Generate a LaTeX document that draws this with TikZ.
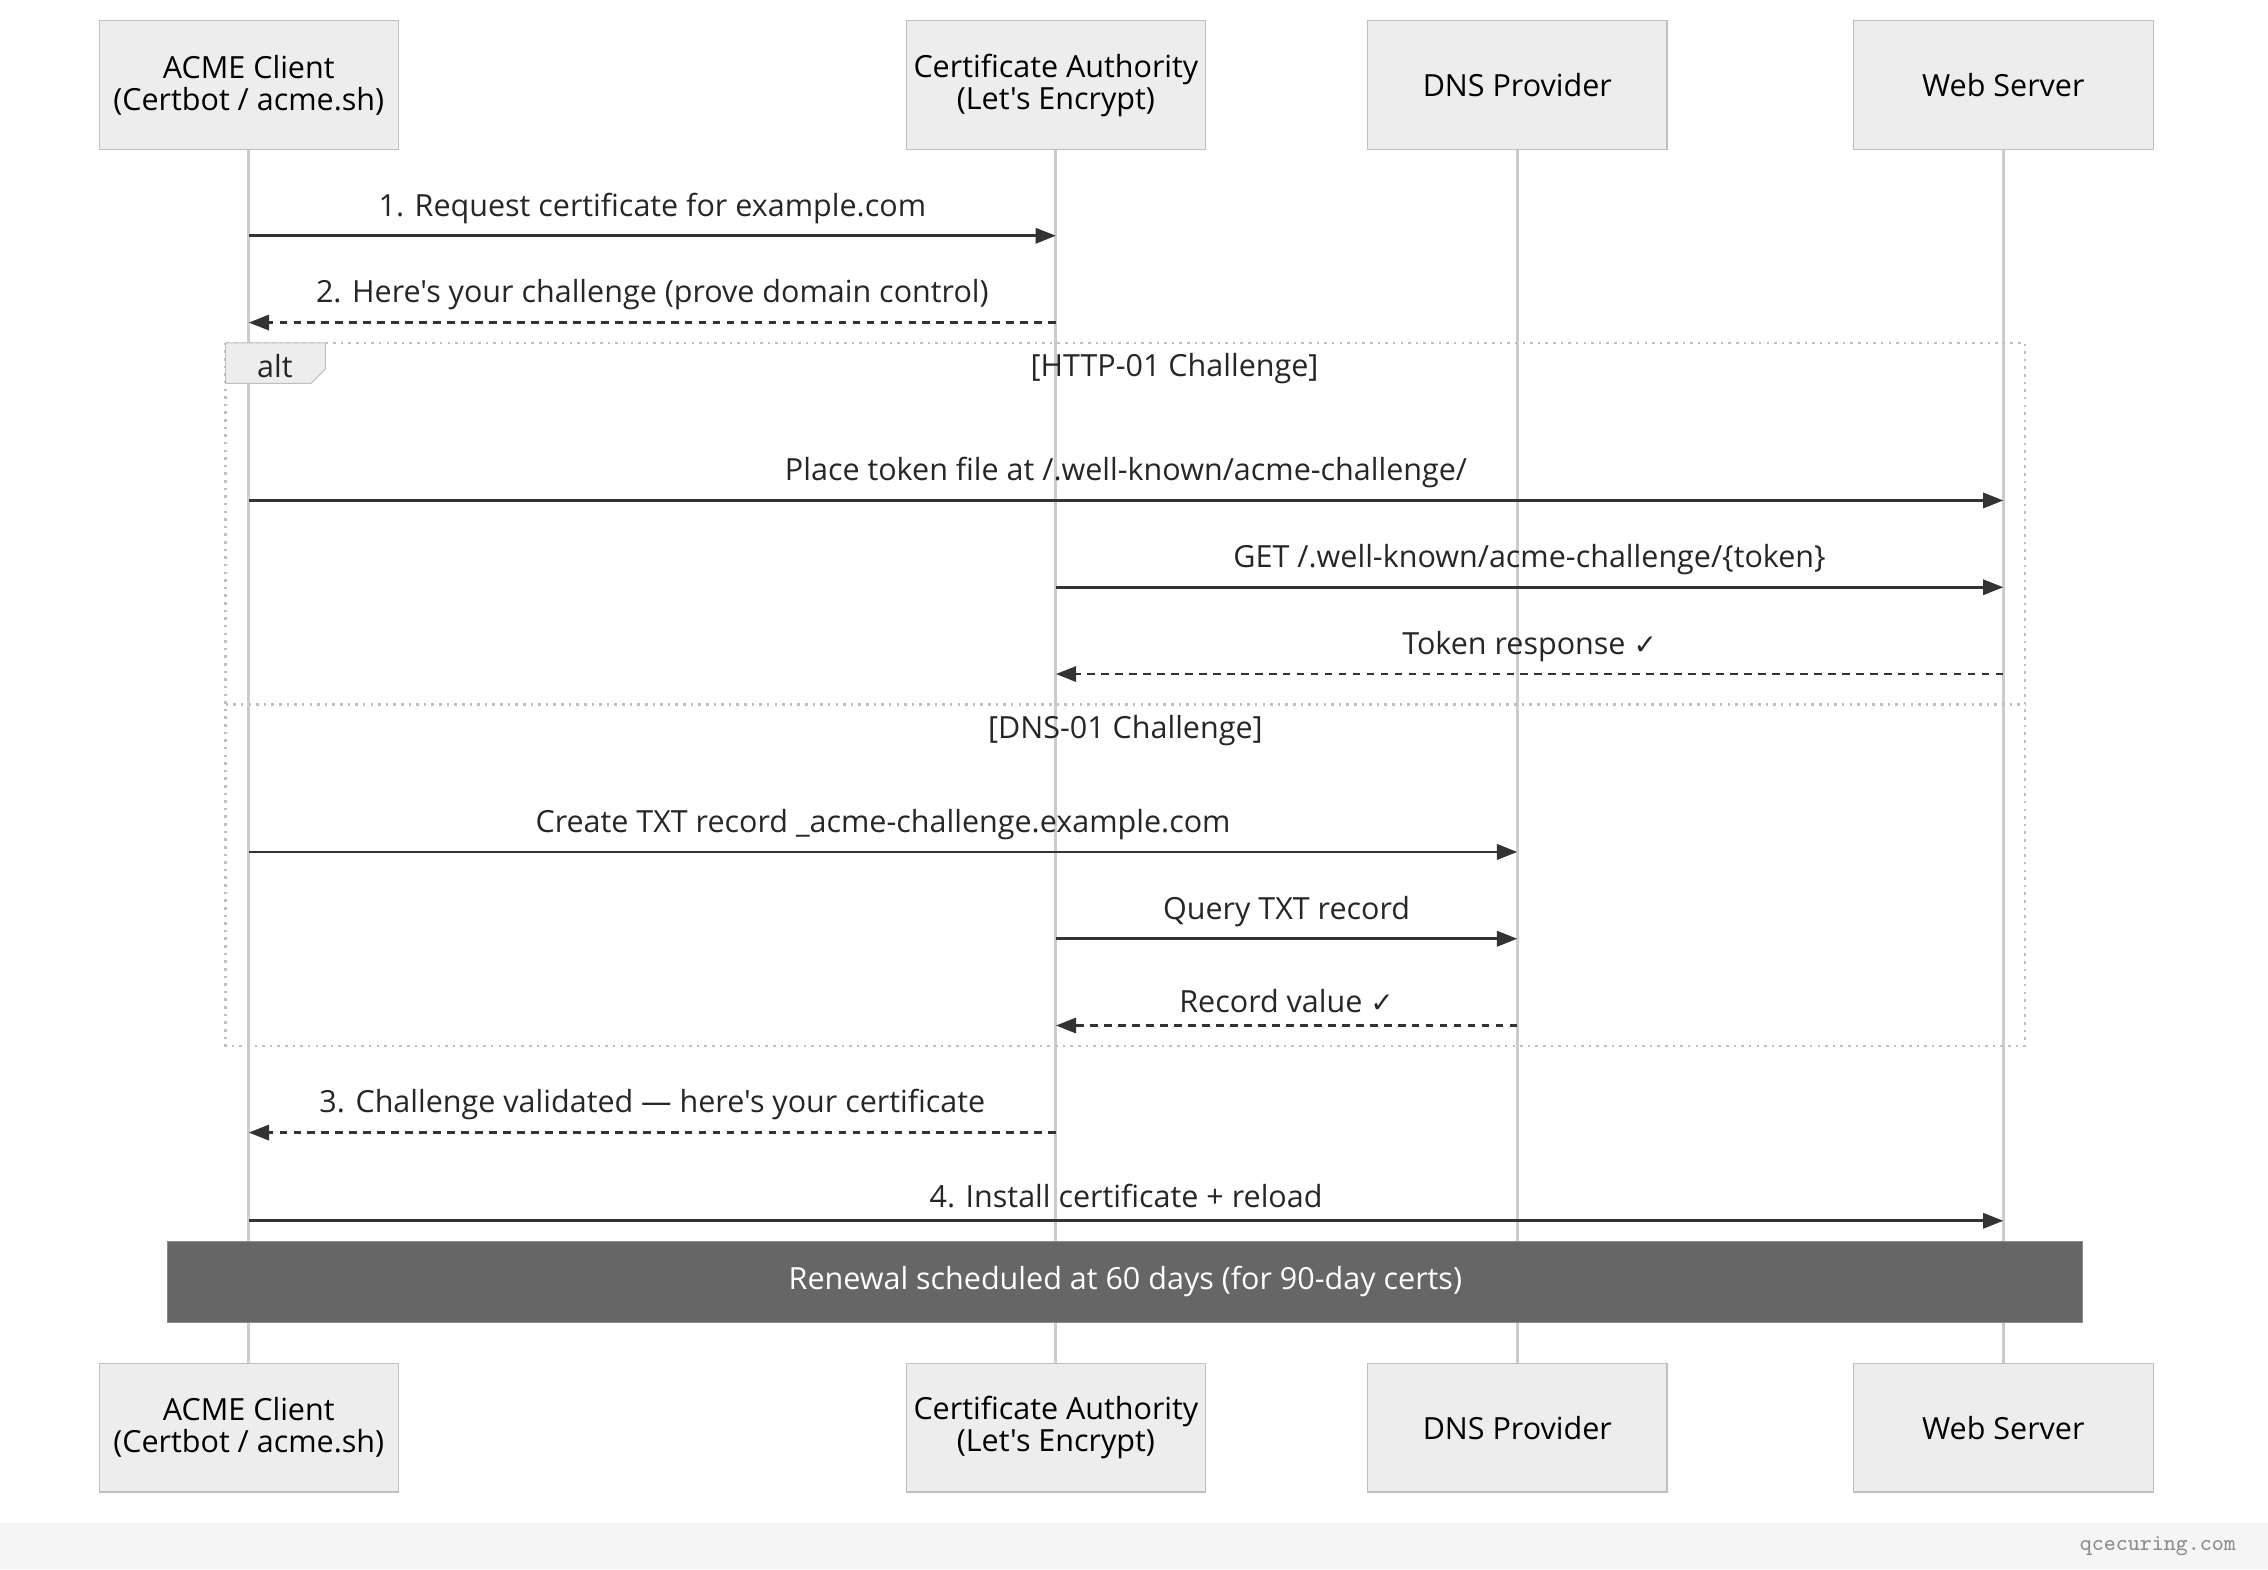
\documentclass[tikz,border=0pt]{standalone}
\usepackage{fontspec}
\setmainfont{Open Sans}[Ligatures=TeXOff]
\newfontfamily\symfont{DejaVu Sans}
\usetikzlibrary{arrows.meta}
\tikzset{
  actor/.style={draw=black!25, fill=black!7, minimum width=4.14cm, minimum height=1.78cm, align=center, inner sep=0pt, font=\fontsize{12}{12.5}\selectfont},
  life/.style={draw=black!20, line width=1.2pt},
  msg/.style={draw=black!80, line width=1.1pt, -{Triangle[length=8pt,width=6pt]}},
  reply/.style={msg, dashed, dash pattern=on 3pt off 2.5pt},
  lbl/.style={font=\fontsize{12}{13}\selectfont, text=black!85},
  frame/.style={draw=black!25, line width=1pt, dotted}
}
\newcommand{\chk}{{\symfont\fontsize{11}{13}\selectfont ✓}}
\begin{document}
\begin{tikzpicture}[x=0.02cm, y=-0.02cm]
  \useasboundingbox (0,0) rectangle (1568,1085);
  \fill[black!4] (0,1053) rectangle (1568,1085);
  \node[font=\ttfamily\fontsize{9}{10}\selectfont, text=black!45, anchor=east] (site) at (1552,1069) {qcecuring.com};

  % Participants
  \node[actor] (acT) at (172,59) {ACME Client\\(Certbot / acme.sh)};
  \node[actor] (caT) at (730,59) {Certificate Authority\\(Let's Encrypt)};
  \node[actor] (dnT) at (1049,59) {DNS Provider};
  \node[actor] (wsT) at (1385,59) {Web Server};
  \node[actor] (acB) at (172,987) {ACME Client\\(Certbot / acme.sh)};
  \node[actor] (caB) at (730,987) {Certificate Authority\\(Let's Encrypt)};
  \node[actor] (dnB) at (1049,987) {DNS Provider};
  \node[actor] (wsB) at (1385,987) {Web Server};

  % Lifelines
  \foreach \p in {ac,ca,dn,ws}
    \draw[life] (\p T.south) -- (\p B.north);

  % alt frame
  \draw[frame] (156,237) rectangle (1400,723);
  \draw[frame] (156,487) -- (1400,487);
  \draw[draw=black!25, fill=black!7] (156,237) -- (225,237) -- (225,255) -- (215,265) -- (156,265) -- cycle;
  \node[lbl] (alt) at (190,253) {alt};
  \node[lbl] (http) at (812,255) {[HTTP-01 Challenge]};
  \node[lbl] (dns) at (778,505) {[DNS-01 Challenge]};

  % Message points
  \coordinate (m1a) at (172,163); \coordinate (m1b) at (730,163);
  \coordinate (m2a) at (730,223); \coordinate (m2b) at (172,223);
  \coordinate (h1a) at (172,346); \coordinate (h1b) at (1385,346);
  \coordinate (h2a) at (730,406); \coordinate (h2b) at (1385,406);
  \coordinate (h3a) at (1385,466); \coordinate (h3b) at (730,466);
  \coordinate (d1a) at (172,589); \coordinate (d1b) at (1049,589);
  \coordinate (d2a) at (730,649); \coordinate (d2b) at (1049,649);
  \coordinate (d3a) at (1049,709); \coordinate (d3b) at (730,709);
  \coordinate (m3a) at (730,783); \coordinate (m3b) at (172,783);
  \coordinate (m4a) at (172,844); \coordinate (m4b) at (1385,844);

  % Messages
  \draw[msg] (m1a) -- node[lbl, above=1pt] {1. Request certificate for example.com} (m1b);
  \draw[reply] (m2a) -- node[lbl, above=1pt] {2. Here's your challenge (prove domain control)} (m2b);
  \draw[msg] (h1a) -- node[lbl, above=1pt] {Place token file at /.well-known/acme-challenge/} (h1b);
  \draw[msg] (h2a) -- node[lbl, above=1pt] {GET /.well-known/acme-challenge/\{token\}} (h2b);
  \draw[reply] (h3a) -- node[lbl, above=1pt] {Token response \chk} (h3b);
  \draw[msg] (d1a) -- node[lbl, above=1pt] {Create TXT record \_acme-challenge.example.com} (d1b);
  \draw[msg] (d2a) -- node[lbl, above=1pt] {Query TXT record} (d2b);
  \draw[reply] (d3a) -- node[lbl, above=1pt] {Record value \chk} (d3b);
  \draw[reply] (m3a) -- node[lbl, above=1pt] {3. Challenge validated — here's your certificate} (m3b);
  \draw[msg] (m4a) -- node[lbl, above=1pt] {4. Install certificate + reload} (m4b);

  % Note
  \node[draw=black!45, fill=black!60, text=white, font=\fontsize{12}{13}\selectfont, minimum width=26.48cm, minimum height=1.12cm] (note) at (778,886) {Renewal scheduled at 60 days (for 90-day certs)};
\end{tikzpicture}
\end{document}
